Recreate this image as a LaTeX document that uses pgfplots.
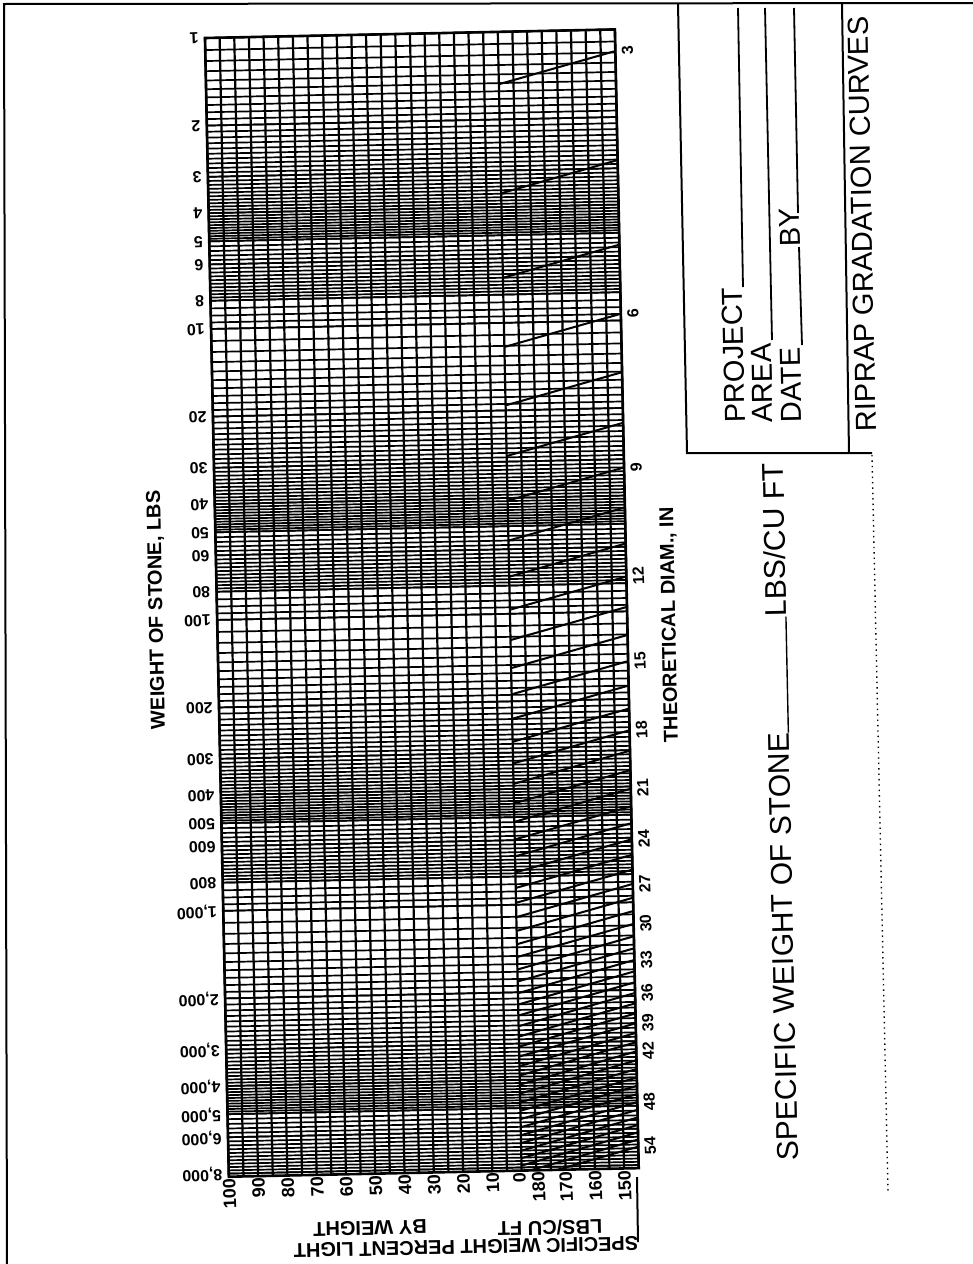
\documentclass[border=0pt]{standalone}
\usepackage{fontspec}
\setmainfont{Liberation Sans}
\usepackage{graphicx}
\usepackage{pgfplots}
\pgfplotsset{compat=1.18}
% horizontal rulings of the log paper
\def\hgrid{1}
\foreach \d in {1,10,100,1000}{%
  \foreach \m in {1.1,1.2,...,4.95}{\pgfmathparse{\m*\d}\xdef\hgrid{\hgrid,\pgfmathresult}}%
  \foreach \m in {5.2,5.4,...,7.9}{\pgfmathparse{\m*\d}\xdef\hgrid{\hgrid,\pgfmathresult}}%
  \foreach \m in {8,8.5,9,9.5,10}{\pgfmathparse{\m*\d}\xdef\hgrid{\hgrid,\pgfmathresult}}%
}
\begin{document}
\begin{tikzpicture}[x=0.5pt,y=-0.5pt]
\path[use as bounding box] (0,0) rectangle (973,1264);
\draw[line width=1pt] (7,1264) -- (4,4) -- (973,3);
\begin{scope}[rotate around={1.2:(102.5pt,-19pt)}]
\begin{axis}[
  at={(102.5pt,-19pt)}, anchor=north west,
  scale only axis, width=205pt, height=569.5pt,
  xmin=0, xmax=140, ymode=log, ymin=1, ymax=8200, y dir=reverse,
  xtick={0,10,...,90,99.2,105.6,115,125,135},
  xticklabels={100,90,80,70,60,50,40,30,20,10,0,180,170,160,150},
  minor xtick={0,5,...,140},
  ytick={1,2,3,4,5,6,8,10,20,30,40,50,60,80,100,200,300,400,500,600,800,1000,2000,3000,4000,5000,6000,8000},
  yticklabels={1,2,3,4,5,6,8,10,20,30,40,50,60,80,100,200,300,400,500,600,800,{1,000},{2,000},{3,000},{4,000},{5,000},{6,000},{8,000}},
  minor ytick/.expand once=\hgrid,
  extra y ticks={5,50,500,5000}, extra y tick labels={},
  extra y tick style={major grid style={black,line width=1.8pt}},
  xmajorgrids=false, xminorgrids=true, ymajorgrids=true, yminorgrids=true,
  minor x grid style={black,line width=1.1pt},
  major y grid style={black,line width=0.85pt},
  minor y grid style={black,line width=0.85pt},
  major tick length=0pt, minor tick length=0pt,
  axis line style={black,line width=1.3pt},
  /pgf/number format/assume math mode=true,
  xticklabel style={rotate=91.2, anchor=east, font=\fontsize{9}{10}\selectfont\bfseries, inner sep=0pt, outer sep=1pt},
  yticklabel style={rotate=181.2, anchor=west, font=\fontsize{8}{9}\selectfont\bfseries, inner sep=3pt},
]
\addplot[black, line width=1pt, unbounded coords=jump] coordinates {
(100,1.5135) (140,1.1863) (nan,nan)
(100,3.5876) (140,2.8119) (nan,nan)
(100,7.0071) (140,5.4920) (nan,nan)
(100,12.108) (140,9.4902) (nan,nan)
(100,19.227) (140,15.070) (nan,nan)
(100,28.701) (140,22.495) (nan,nan)
(100,40.865) (140,32.030) (nan,nan)
(100,56.057) (140,43.936) (nan,nan)
(100,74.611) (140,58.479) (nan,nan)
(100,96.866) (140,75.922) (nan,nan)
(100,123.16) (140,96.528) (nan,nan)
(100,153.82) (140,120.56) (nan,nan)
(100,189.19) (140,148.28) (nan,nan)
(100,229.61) (140,179.96) (nan,nan)
(100,275.41) (140,215.86) (nan,nan)
(100,326.92) (140,256.24) (nan,nan)
(100,384.49) (140,301.36) (nan,nan)
(100,448.45) (140,351.49) (nan,nan)
(100,519.14) (140,406.89) (nan,nan)
(100,596.89) (140,467.83) (nan,nan)
(100,682.04) (140,534.57) (nan,nan)
(100,774.93) (140,607.37) (nan,nan)
(100,875.88) (140,686.50) (nan,nan)
(100,985.25) (140,772.22) (nan,nan)
(100,1103.4) (140,864.79) (nan,nan)
(100,1230.6) (140,964.49) (nan,nan)
(100,1367.2) (140,1071.6) (nan,nan)
(100,1513.5) (140,1186.3) (nan,nan)
(100,1670.0) (140,1308.9) (nan,nan)
(100,1836.9) (140,1439.7) (nan,nan)
(100,2014.5) (140,1578.9) (nan,nan)
(100,2203.3) (140,1726.9) (nan,nan)
(100,2403.4) (140,1883.8) (nan,nan)
(100,2615.4) (140,2049.9) (nan,nan)
(100,2839.4) (140,2225.5) (nan,nan)
(100,3075.9) (140,2410.9) (nan,nan)
(100,3325.2) (140,2606.2) (nan,nan)
(100,3587.6) (140,2811.9) (nan,nan)
(100,3863.4) (140,3028.1) (nan,nan)
(100,4153.1) (140,3255.1) (nan,nan)
(100,4456.9) (140,3493.2) (nan,nan)
(100,4775.1) (140,3742.6) (nan,nan)
(100,5108.2) (140,4003.7) (nan,nan)
(100,5456.3) (140,4276.6) (nan,nan)
(100,5819.9) (140,4561.6) (nan,nan)
(100,6199.4) (140,4859.0) (nan,nan)
(100,6595.0) (140,5169.0) (nan,nan)
(100,7007.1) (140,5492.0) (nan,nan)
(100,7436.0) (140,5828.2) (nan,nan)
(100,7882.0) (140,6177.8) (nan,nan)
(100,8345.5) (140,6541.1) (nan,nan)
(100,8826.9) (140,6918.4)
};
\end{axis}
\begin{axis}[
  at={(102.5pt,-19pt)}, anchor=north west,
  scale only axis, width=205pt, height=569.5pt,
  xmin=0, xmax=140, ymode=log, ymin=1, ymax=8200, y dir=reverse,
  axis x line=none, axis y line*=right, y axis line style={draw=none},
  ytick={1.186,9.490,32.03,75.92,148.3,256.2,406.9,607.4,864.8,1186,1579,2050,2606,3255,4859,6918},
  yticklabels={3,6,9,12,15,18,21,24,27,30,33,36,39,42,48,54},
  major tick length=0pt, minor tick length=0pt,
  /pgf/number format/assume math mode=true,
  yticklabel style={rotate=91.2, anchor=north, font=\fontsize{8}{9}\selectfont\bfseries, inner sep=3pt},
]
\end{axis}
\end{scope}
% axis titles
\node[rotate=91.2, font=\fontsize{10}{12}\selectfont\bfseries] at (157,610) {WEIGHT OF STONE, LBS};
\node[rotate=91.2, font=\fontsize{10}{12}\selectfont\bfseries] at (670,625) {THEORETICAL DIAM., IN};
\node[rotate=181.2, font=\fontsize{10}{12}\selectfont\bfseries] at (466,1247) {SPECIFIC WEIGHT PERCENT LIGHT};
\node[rotate=181.2, font=\fontsize{10}{12}\selectfont\bfseries] at (370,1228) {BY WEIGHT};
\node[rotate=181.2, font=\fontsize{10}{12}\selectfont\bfseries] at (550,1228) {LBS/CU FT};
\draw[line width=1pt] (637,1177) -- (638,1242);
% specific weight entry
\node[rotate=91.2, font=\fontsize{15}{18}\selectfont] at (780,812) {SPECIFIC WEIGHT OF STONE\rule{58pt}{0.7pt}LBS/CU FT};
% title block
\draw[line width=1pt] (678,4) -- (687,453) -- (872,453);
\draw[line width=1pt] (842,4) -- (849,453);
\draw[dotted, line width=0.7pt] (872,455) -- (888,1192);
\node[rotate=91.2, font=\fontsize{14.5}{17}\selectfont] at (862,224) {RIPRAP GRADATION CURVES};
\node[rotate=91.2, anchor=base west, font=\fontsize{14.5}{17}\selectfont, inner sep=0pt] at (745,423) {PROJECT};
\node[rotate=91.2, anchor=base west, font=\fontsize{14.5}{17}\selectfont, inner sep=0pt] at (773,423) {AREA};
\node[rotate=91.2, anchor=base west, font=\fontsize{14.5}{17}\selectfont, inner sep=0pt] at (802,423) {DATE};
\node[rotate=91.2, anchor=base west, font=\fontsize{14.5}{17}\selectfont, inner sep=0pt] at (800,247) {BY};
\draw[line width=0.9pt] (743,287) -- (738,8);
\draw[line width=0.9pt] (772,340) -- (765,8);
\draw[line width=0.9pt] (802,345) -- (799,247);
\draw[line width=0.9pt] (798,213) -- (794,8);
\end{tikzpicture}
\end{document}
